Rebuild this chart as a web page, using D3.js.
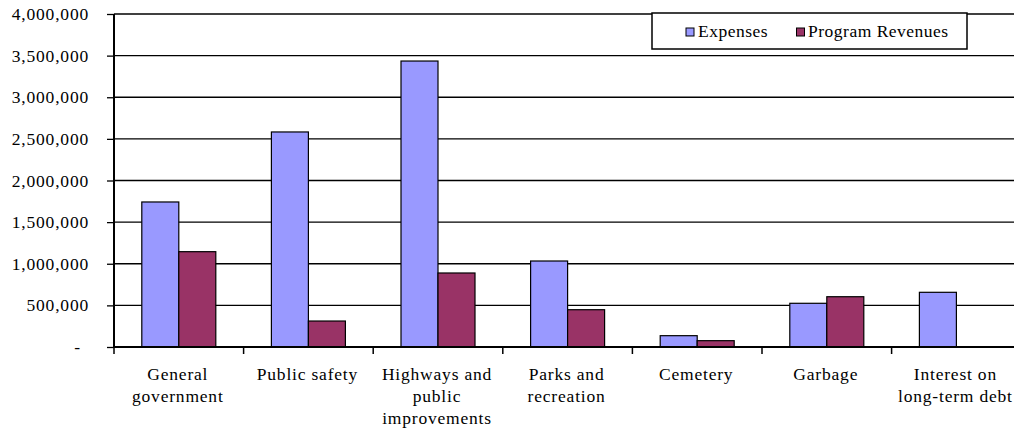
<!DOCTYPE html>
<html>
<head>
<meta charset="utf-8">
<script src="https://cdn.jsdelivr.net/npm/d3@7"></script>
<style>
  html, body { margin: 0; padding: 0; background: #fff; }
  svg { display: block; }
</style>
</head>
<body>
<svg id="chart" width="1014" height="429"></svg>
<script>
// ---- data ----
const categories = ["General government", "Public safety", "Highways and public improvements",
  "Parks and recreation", "Cemetery", "Garbage", "Interest on long-term debt"];
const categoryLines = [["General", "government"], ["Public safety"], ["Highways and", "public", "improvements"],
  ["Parks and", "recreation"], ["Cemetery"], ["Garbage"], ["Interest on", "long-term debt"]];
const seriesNames = ["Expenses", "Program Revenues"];
const expenses = [1742000, 2583000, 3435000, 1033000, 136000, 525000, 657000];
const programRevenues = [1145000, 312000, 889000, 448000, 76000, 604000, 0];
const yTicks = [0, 500000, 1000000, 1500000, 2000000, 2500000, 3000000, 3500000, 4000000];
const colors = ["#9999FF", "#993366"];

const FONT = "'Liberation Serif', 'Times New Roman', Times, serif";
const FS = 17.5, LS = 0.8;

// ---- layout ----
const svg = d3.select("#chart");
const left = 114, baseY = 347, topY = 14, band = 129.6;
const y = d3.scaleLinear().domain([0, 4000000]).range([baseY, topY]);
const x0 = d3.scaleBand().domain(categories).range([left, left + band * categories.length]).padding(0);
const x1 = d3.scaleBand().domain(seriesNames).range([27.8, band - 27.8]).padding(0);

// gridlines
svg.append("g").selectAll("line").data(yTicks.filter(d => d > 0)).join("line")
  .attr("x1", left).attr("x2", 1014)
  .attr("y1", d => y(d)).attr("y2", d => y(d))
  .attr("stroke", "#000").attr("stroke-width", 1.3);

// bars
const data = categories.map((c, i) => ({ c, vals: [expenses[i], programRevenues[i]] }));
const g = svg.append("g");
data.forEach(d => {
  d.vals.forEach((v, j) => {
    if (v <= 0) return;
    g.append("rect")
      .attr("x", x0(d.c) + x1(seriesNames[j]))
      .attr("y", y(v))
      .attr("width", x1.bandwidth())
      .attr("height", baseY - y(v))
      .attr("fill", colors[j])
      .attr("stroke", "#000").attr("stroke-width", 1.2);
  });
});

// y axis
const yAxis = d3.axisLeft(y).tickValues(yTicks).tickSize(7).tickPadding(18)
  .tickFormat(d => d === 0 ? "-" : d3.format(",")(d));
const ya = svg.append("g").attr("transform", `translate(${left},0)`).call(yAxis)
  .attr("font-family", FONT).attr("font-size", FS);
ya.select(".domain").remove();
ya.selectAll("line").attr("stroke", "#000").attr("stroke-width", 1.3);
ya.selectAll("text").attr("font-family", FONT).attr("font-size", FS).attr("fill", "#000")
  .attr("letter-spacing", LS);
ya.selectAll("text").filter(d => d === 0).attr("dx", "-8");
svg.append("line").attr("x1", left).attr("x2", left).attr("y1", topY).attr("y2", baseY)
  .attr("stroke", "#000").attr("stroke-width", 2);

// x axis
svg.append("line").attr("x1", left).attr("x2", 1014).attr("y1", baseY).attr("y2", baseY)
  .attr("stroke", "#000").attr("stroke-width", 2.2);
const tickXs = categories.map(c => x0(c)).concat([x0(categories[categories.length - 1]) + band]);
svg.append("g").selectAll("line").data(tickXs).join("line")
  .attr("x1", d => d).attr("x2", d => d).attr("y1", baseY).attr("y2", baseY + 7)
  .attr("stroke", "#000").attr("stroke-width", 1.5);

// category labels
categories.forEach((c, i) => {
  const cx = x0(c) + band / 2 - 1;
  const t = svg.append("text").attr("text-anchor", "middle")
    .attr("font-family", FONT).attr("font-size", FS).attr("fill", "#000")
    .attr("letter-spacing", LS)
    .attr("x", cx).attr("y", 380);
  categoryLines[i].forEach((ln, k) => {
    t.append("tspan").attr("x", cx).attr("y", 380 + k * 21.8).text(ln);
  });
});

// legend
const lg = svg.append("g");
lg.append("rect").attr("x", 652).attr("y", 13).attr("width", 315).attr("height", 36)
  .attr("fill", "#fff").attr("stroke", "#000").attr("stroke-width", 1.5);
const legendItems = [{ x: 686, tx: 698, name: "Expenses" }, { x: 796.5, tx: 808, name: "Program Revenues" }];
legendItems.forEach((it, j) => {
  lg.append("rect").attr("x", it.x).attr("y", 28).attr("width", 8).attr("height", 8)
    .attr("fill", colors[j]).attr("stroke", "#000").attr("stroke-width", 1);
  lg.append("text").attr("x", it.tx).attr("y", 37)
    .attr("font-family", FONT).attr("font-size", FS).attr("fill", "#000")
    .attr("letter-spacing", 0.5).text(it.name);
});
</script>
</body>
</html>
